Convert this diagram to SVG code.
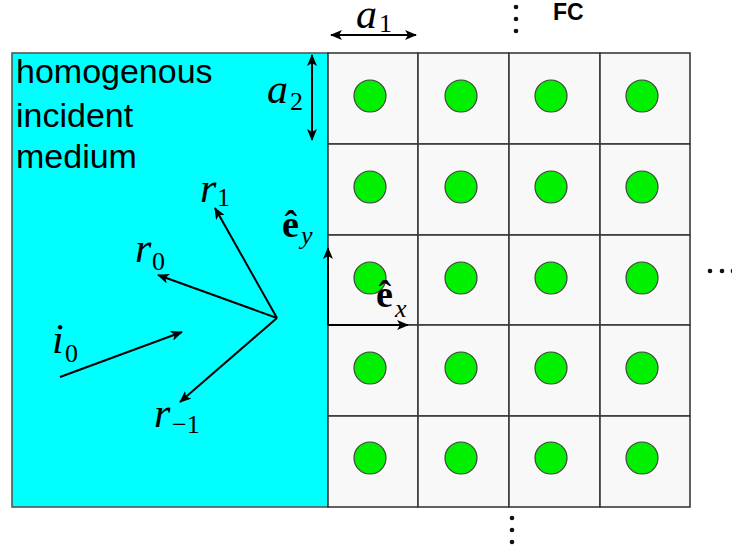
<svg xmlns="http://www.w3.org/2000/svg" width="732" height="550" viewBox="0 0 732 550">
<defs>
<style>
.cell{fill:#f8f8f8;stroke:#3a3a3a;stroke-width:1.6}
.sc{fill:#00f000;stroke:#404040;stroke-width:1.2}
.arr{stroke:#000;stroke-width:2;fill:none}
.lbl{font-family:"Liberation Sans",Arial,sans-serif;font-size:34px;fill:#000}
.m{font-family:"Liberation Serif","Times New Roman",serif;font-style:italic;font-size:42px;fill:#000}
.s{font-family:"Liberation Serif","Times New Roman",serif;font-size:26px;fill:#000}
.si{font-family:"Liberation Serif","Times New Roman",serif;font-style:italic;font-size:26px;fill:#000}
.b{font-family:"Liberation Serif","Times New Roman",serif;font-weight:bold;font-size:38px;fill:#000}
.dot{fill:#111}
</style>
<marker id="ah" viewBox="0 0 12 10" refX="11" refY="5" markerWidth="12" markerHeight="10" markerUnits="userSpaceOnUse" orient="auto-start-reverse">
<path d="M0,0 L12,5 L0,10 L3,5 Z" fill="#000"/>
</marker>
</defs>
<rect width="732" height="550" fill="#fff"/>
<g id="medium">
<rect x="12" y="53" width="316" height="454" fill="#00ffff" stroke="#555" stroke-width="1.6"/>
<text class="lbl" x="16" y="83">homogenous</text>
<text class="lbl" x="16" y="127">incident</text>
<text class="lbl" x="16" y="168">medium</text>
</g>
<g id="crystal">
<rect class="cell" x="328" y="53" width="90" height="91"/>
<rect class="cell" x="418" y="53" width="91" height="91"/>
<rect class="cell" x="509" y="53" width="91" height="91"/>
<rect class="cell" x="600" y="53" width="90" height="91"/>
<rect class="cell" x="328" y="144" width="90" height="91"/>
<rect class="cell" x="418" y="144" width="91" height="91"/>
<rect class="cell" x="509" y="144" width="91" height="91"/>
<rect class="cell" x="600" y="144" width="90" height="91"/>
<rect class="cell" x="328" y="235" width="90" height="90"/>
<rect class="cell" x="418" y="235" width="91" height="90"/>
<rect class="cell" x="509" y="235" width="91" height="90"/>
<rect class="cell" x="600" y="235" width="90" height="90"/>
<rect class="cell" x="328" y="325" width="90" height="91"/>
<rect class="cell" x="418" y="325" width="91" height="91"/>
<rect class="cell" x="509" y="325" width="91" height="91"/>
<rect class="cell" x="600" y="325" width="90" height="91"/>
<rect class="cell" x="328" y="416" width="90" height="91"/>
<rect class="cell" x="418" y="416" width="91" height="91"/>
<rect class="cell" x="509" y="416" width="91" height="91"/>
<rect class="cell" x="600" y="416" width="90" height="91"/>
<circle class="sc" cx="370" cy="96" r="16"/><circle class="sc" cx="461" cy="96" r="16"/><circle class="sc" cx="551" cy="96" r="16"/><circle class="sc" cx="642" cy="96" r="16"/>
<circle class="sc" cx="370" cy="187" r="16"/><circle class="sc" cx="461" cy="187" r="16"/><circle class="sc" cx="551" cy="187" r="16"/><circle class="sc" cx="642" cy="187" r="16"/>
<circle class="sc" cx="370" cy="278" r="16"/><circle class="sc" cx="461" cy="278" r="16"/><circle class="sc" cx="551" cy="278" r="16"/><circle class="sc" cx="642" cy="278" r="16"/>
<circle class="sc" cx="370" cy="368" r="16"/><circle class="sc" cx="461" cy="368" r="16"/><circle class="sc" cx="551" cy="368" r="16"/><circle class="sc" cx="642" cy="368" r="16"/>
<circle class="sc" cx="370" cy="458" r="16"/><circle class="sc" cx="461" cy="458" r="16"/><circle class="sc" cx="551" cy="458" r="16"/><circle class="sc" cx="642" cy="458" r="16"/>
</g>
<g id="connectors">
<line class="arr" x1="331" y1="35" x2="416" y2="35" marker-start="url(#ah)" marker-end="url(#ah)"/>
<line class="arr" x1="312" y1="55" x2="312" y2="140" marker-start="url(#ah)" marker-end="url(#ah)"/>
<line class="arr" x1="60" y1="377" x2="182" y2="332" marker-end="url(#ah)"/>
<line class="arr" x1="277" y1="318" x2="215" y2="208" marker-end="url(#ah)"/>
<line class="arr" x1="277" y1="318" x2="158" y2="275" marker-end="url(#ah)"/>
<line class="arr" x1="277" y1="318" x2="180" y2="402" marker-end="url(#ah)"/>
<line class="arr" x1="328" y1="325" x2="328" y2="248" marker-end="url(#ah)"/>
<line class="arr" x1="328" y1="325" x2="408" y2="325" marker-end="url(#ah)"/>
</g>
<g id="labels">
<text class="m" x="356" y="28">a</text><text class="s" x="379" y="32">1</text>
<text class="m" x="267" y="103">a</text><text class="s" x="290" y="110">2</text>
<text class="m" x="200" y="202">r</text><text class="s" x="217" y="206">1</text>
<text class="m" x="135" y="262">r</text><text class="s" x="152" y="270">0</text>
<text class="m" x="52" y="353">i</text><text class="s" x="65" y="362">0</text>
<text class="m" x="154" y="427">r</text><text class="s" x="172" y="433">−1</text>
<text class="b" x="282" y="237">ê</text><text class="si" x="301" y="244">y</text>
<text class="b" x="376" y="307">ê</text><text class="si" x="395" y="317">x</text>
<text x="553" y="20" font-family="Liberation Sans,Arial,sans-serif" font-weight="bold" font-size="23" fill="#000">FC</text>
</g>
<g id="ellipses">
<circle class="dot" cx="516" cy="7" r="2.3"/><circle class="dot" cx="516" cy="19" r="2.3"/><circle class="dot" cx="516" cy="31" r="2.3"/>
<circle class="dot" cx="512" cy="518" r="2.3"/><circle class="dot" cx="512" cy="530" r="2.3"/><circle class="dot" cx="512" cy="542" r="2.3"/>
<circle class="dot" cx="710" cy="271" r="2.3"/><circle class="dot" cx="722" cy="271" r="2.3"/><circle class="dot" cx="733" cy="271" r="2.3"/>
</g>
</svg>
